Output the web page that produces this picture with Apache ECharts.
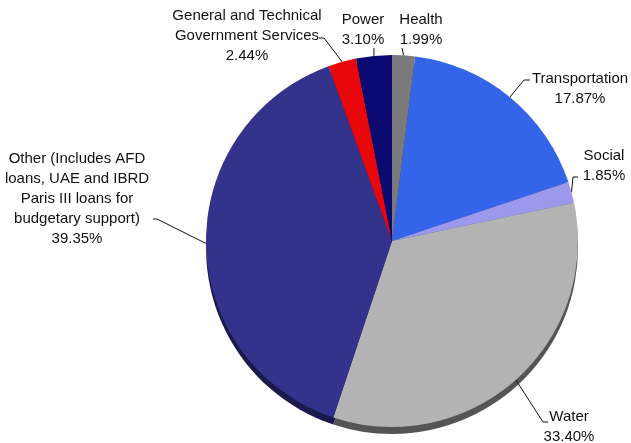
<!DOCTYPE html>
<html>
<head>
<meta charset="utf-8">
<script src="https://cdn.jsdelivr.net/npm/echarts@6/dist/echarts.min.js"></script>
<style>
  html, body { margin: 0; padding: 0; background: #fff; }
  #chart { width: 631px; height: 443px; }
</style>
</head>
<body>
<div id="chart"></div>
<script>
const categories = [
  'Health',
  'Transportation',
  'Social',
  'Water',
  'Other (Includes AFD\nloans, UAE and IBRD\nParis III loans for\nbudgetary support)',
  'General and Technical\nGovernment Services',
  'Power'
];
const shares = [1.99, 17.87, 1.85, 33.40, 39.35, 2.44, 3.10];
const colors = ['#7a7a7a', '#3464e8', '#9c98ec', '#b3b3b3', '#33338c', '#e8080c', '#0a0a72'];
const edgeColors = ['#444444', '#1f3c8c', '#5c5a8c', '#555555', '#1a1a4c', '#8c0508', '#05053f'];

// where each label sits (text centre) and the elbow of its leader line
const labelSpots = [
  { x: 421, y: 30, elbow: [[402, 48], [402, 48]] },
  { x: 580, y: 89, elbow: [[524, 80], [530, 80]] },
  { x: 604, y: 166, elbow: [[573, 177], [578, 177]] },
  { x: 569, y: 427, elbow: [[543, 422], [548, 422]] },
  { x: 77, y: 199, elbow: [[157, 219], [153, 219]] },
  { x: 247, y: 36, elbow: [[324, 38], [319, 38]] },
  { x: 363, y: 30, elbow: [[374, 48], [374, 48]] }
];

const mainData = categories.map((name, i) => ({
  name: name,
  value: shares[i],
  itemStyle: { color: colors[i] }
}));
const edgeData = categories.map((name, i) => ({
  name: name,
  value: shares[i],
  itemStyle: { color: edgeColors[i] }
}));

const chart = echarts.init(document.getElementById('chart'));
chart.setOption({
  animation: false,
  backgroundColor: '#ffffff',
  series: [
    {
      type: 'pie',
      silent: true,
      z: 1,
      center: [392, 248],
      radius: 186,
      startAngle: 90,
      clockwise: true,
      label: { show: false },
      labelLine: { show: false },
      data: edgeData
    },
    {
      type: 'pie',
      z: 2,
      center: [392, 241],
      radius: 186,
      startAngle: 90,
      clockwise: true,
      avoidLabelOverlap: false,
      itemStyle: { borderWidth: 0 },
      label: {
        show: true,
        position: 'outside',
        overflow: 'none',
        formatter: p => p.name + '\n' + p.value.toFixed(2) + '%',
        fontFamily: 'Liberation Sans, Arial, sans-serif',
        fontSize: 15,
        lineHeight: 20,
        color: '#111',
        align: 'center'
      },
      labelLine: {
        show: true,
        lineStyle: { color: '#111', width: 1 }
      },
      labelLayout: function (params) {
        const spot = labelSpots[params.dataIndex];
        const start = params.labelLinePoints ? params.labelLinePoints[0] : spot.elbow[0];
        return {
          x: spot.x,
          y: spot.y,
          align: 'center',
          verticalAlign: 'middle',
          hideOverlap: false,
          labelLinePoints: [start, spot.elbow[0], spot.elbow[1]]
        };
      },
      data: mainData
    }
  ]
});
</script>
</body>
</html>
